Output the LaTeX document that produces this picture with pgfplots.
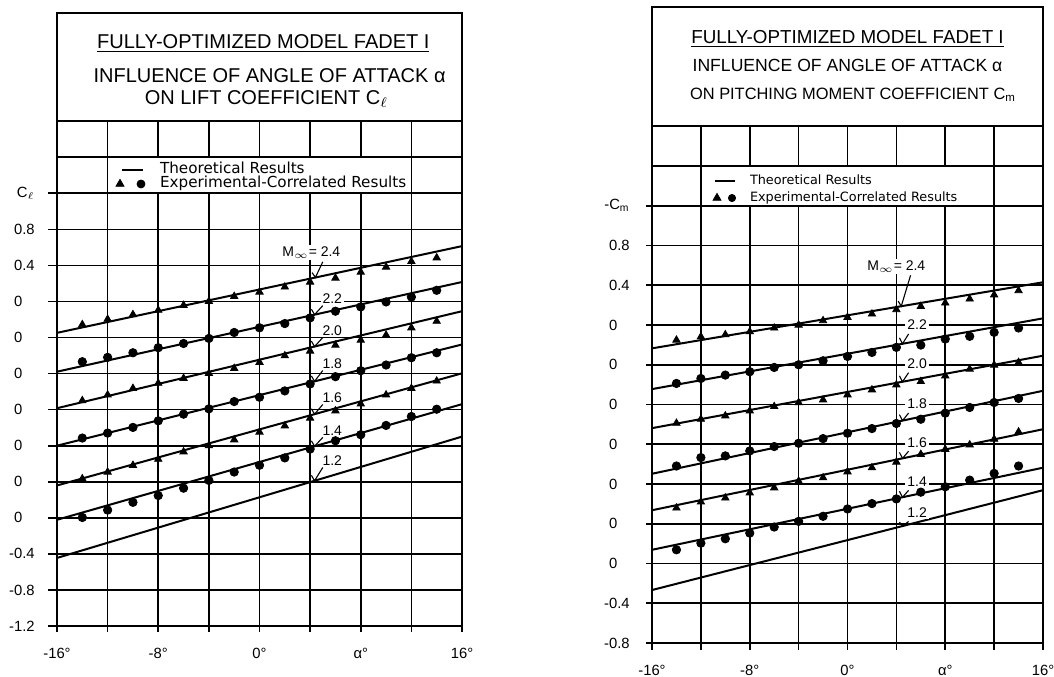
\documentclass[border=0pt]{standalone}
\usepackage{fontspec}
\setmainfont{Liberation Sans}
\newfontfamily\legfont{DejaVu Sans}
\usepackage{pgfplots}
\usepackage{pgfplotstable}
\pgfplotsset{compat=1.18}

% ---------- lift coefficient chart ----------
\pgfplotstableread{
a m24 m22 m20 m18 m16 m14
-14 -0.256 -0.668 -1.099 -1.515 -1.966 -2.396
-12 -0.197 -0.620 -1.036 -1.460 -1.892 -2.314
-10 -0.145 -0.569 -0.963 -1.397 -1.817 -2.228
-8 -0.097 -0.513 -0.907 -1.324 -1.750 -2.153
-6 -0.042 -0.466 -0.852 -1.250 -1.667 -2.071
-4 0.002 -0.410 -0.797 -1.191 -1.600 -1.985
-2 0.057 -0.344 -0.742 -1.110 -1.534 -1.892
0 0.105 -0.292 -0.675 -1.062 -1.449 -1.817
2 0.161 -0.245 -0.602 -0.992 -1.379 -1.735
4 0.216 -0.182 -0.550 -0.915 -1.294 -1.637
6 0.260 -0.108 -0.484 -0.834 -1.213 -1.545
8 0.326 -0.060 -0.429 -0.768 -1.136 -1.478
10 0.382 -0.005 -0.373 -0.705 -1.036 -1.375
12 0.444 0.050 -0.292 -0.624 -0.963 -1.276
14 0.485 0.124 -0.219 -0.569 -0.882 -1.195
}\liftexp
\pgfplotstableread{
a m24 m22 m20 m18 m16 m14 m12
-16 -0.348 -0.779 -1.184 -1.600 -2.041 -2.422 -2.845
16 0.614 0.216 -0.108 -0.477 -0.797 -1.139 -1.499
}\lifttheo

% ---------- pitching moment chart ----------
\pgfplotstableread{
a m24 m22 m20 m18 m16 m14
-14 -0.151 -0.588 -0.988 -1.419 -1.841 -2.262
-12 -0.118 -0.538 -0.948 -1.334 -1.780 -2.195
-10 -0.097 -0.504 -0.914 -1.317 -1.740 -2.151
-8 -0.067 -0.470 -0.864 -1.267 -1.689 -2.094
-6 -0.030 -0.427 -0.820 -1.223 -1.638 -2.033
-4 0.000 -0.400 -0.780 -1.190 -1.571 -1.976
-2 0.044 -0.360 -0.753 -1.143 -1.537 -1.925
0 0.077 -0.316 -0.702 -1.089 -1.477 -1.851
2 0.111 -0.276 -0.652 -1.042 -1.436 -1.797
4 0.155 -0.225 -0.602 -0.991 -1.379 -1.750
6 0.188 -0.202 -0.568 -0.948 -1.301 -1.682
8 0.222 -0.141 -0.511 -0.887 -1.251 -1.628
10 0.262 -0.114 -0.444 -0.830 -1.205 -1.561
12 0.303 -0.074 -0.403 -0.780 -1.149 -1.493
14 0.346 -0.030 -0.376 -0.739 -1.075 -1.419
}\momexp
\pgfplotstableread{
a m24 m22 m20 m18 m16 m14 m12
-16 -0.235 -0.645 -1.038 -1.497 -1.864 -2.262 -2.667
16 0.430 0.067 -0.309 -0.662 -1.049 -1.436 -1.662
}\momtheo

\pgfplotsset{
  theo/.style={black, line width=1pt, no markers, forget plot},
  tri/.style={black, only marks, mark=triangle*, mark size=2.1pt, forget plot},
  circ/.style={black, only marks, mark=*, mark size=2.1pt, forget plot},
  chart/.style={
    scale only axis, xmin=-16, xmax=16, clip=false,
    axis line style={black, line width=1pt},
    major tick length=0pt,
    xtick={-16,-8,0,8,16},
    xticklabels={-16°,-8°,0°,α°,16°},
    tick label style={font=\fontsize{7.4}{8}\selectfont},
    xticklabel style={anchor=base, inner sep=0pt, yshift=-16pt},
    yticklabel style={anchor=east, inner sep=0pt, xshift=-11pt},
    legend cell align=left,
  },
}
\tikzset{
  gridl/.style={black, line width=0.8pt},
  lead/.style={black, line width=0.55pt},
  clab/.style={fill=white, inner sep=1pt, font=\fontsize{7}{8}\selectfont},
}

\begin{document}
\begin{tikzpicture}
% ================= LEFT: lift coefficient =================
\begin{axis}[chart,
  at={(28.5pt,25pt)}, anchor=south west,
  width=202.5pt, height=306.5pt,
  ymin=-3.6, ymax=3.2,
  ytick={-3.6,-3.2,-2.8,-2.4,-2,-1.6,-1.2,-0.8,-0.4,0,0.4,0.8,1.2},
  yticklabels={-1.2,-0.8,-0.4,0\phantom{.4},0\phantom{.4},0\phantom{.4},0\phantom{.4},0\phantom{.4},0\phantom{.4},0\phantom{.4},0.4,0.8,C$_\ell$\hspace{3.5pt}},
  legend style={at={(0.1447,0.7325)}, anchor=west, draw=none, fill=none,
    inner sep=0pt, outer sep=0pt, row sep=0pt, column sep=7pt,
    font=\legfont\fontsize{7.6}{8}\selectfont,
    nodes={inner sep=0pt, text height=5.5pt, text depth=1.5pt}},
]
\addlegendimage{legend image code/.code={\path[draw=none,fill=none] (-2.2pt,-2.5pt) rectangle (13pt,2.5pt); \draw[line width=1.3pt] (1pt,0pt) -- (11.5pt,0pt);}}
\addlegendentry{Theoretical Results}
\addlegendimage{legend image code/.code={\path[draw=none,fill=none] (-2.2pt,-2.5pt) rectangle (13pt,2.5pt); \draw plot[mark=triangle*, mark size=2.3pt] coordinates {(0pt,0pt)}; \draw plot[mark=*, mark size=2pt] coordinates {(10.5pt,0pt)};}}
\addlegendentry{Experimental-Correlated Results}

% grid
\pgfplotsinvokeforeach{-3.6,-3.2,-2.8,-2.4,-2.0,-1.6,-1.2,-0.8,-0.4,0,0.4,0.8,1.2}{
  \draw[gridl] (axis cs:-16,#1) ++(-4.5pt,0pt) -- (axis cs:16,#1);}
\pgfplotsinvokeforeach{1.6,2.0}{\draw[gridl] (axis cs:-16,#1) -- (axis cs:16,#1);}
\pgfplotsinvokeforeach{-12,12}{\draw[gridl] (axis cs:#1,-3.6) ++(0pt,-3pt) -- (axis cs:#1,2.0);}
\pgfplotsinvokeforeach{-8,-4,0,4,8}{\draw[gridl] (axis cs:#1,-3.6) ++(0pt,-3pt) -- (axis cs:#1,1.2);
  \draw[gridl] (axis cs:#1,1.6) -- (axis cs:#1,2.0);}
\pgfplotsinvokeforeach{-16,16}{\draw[gridl] (axis cs:#1,-3.6) -- ++(0pt,-3pt);}

% theoretical lines
\addplot[theo] table[x=a,y=m24] {\lifttheo};
\addplot[theo] table[x=a,y=m22] {\lifttheo};
\addplot[theo] table[x=a,y=m20] {\lifttheo};
\addplot[theo] table[x=a,y=m18] {\lifttheo};
\addplot[theo] table[x=a,y=m16] {\lifttheo};
\addplot[theo] table[x=a,y=m14] {\lifttheo};
\addplot[theo] table[x=a,y=m12] {\lifttheo};
% experimental
\addplot[tri]  table[x=a,y=m24] {\liftexp};
\addplot[circ] table[x=a,y=m22] {\liftexp};
\addplot[tri]  table[x=a,y=m20] {\liftexp};
\addplot[circ] table[x=a,y=m18] {\liftexp};
\addplot[tri]  table[x=a,y=m16] {\liftexp};
\addplot[circ] table[x=a,y=m14] {\liftexp};

% curve labels
\node[clab] at (axis cs:4.1,0.544) {M$_\infty$= 2.4};
\node[clab] at (axis cs:5.75,0.034) {2.2};
\node[clab] at (axis cs:5.75,-0.320) {2.0};
\node[clab] at (axis cs:5.75,-0.686) {1.8};
\node[clab] at (axis cs:5.75,-1.063) {1.6};
\node[clab] at (axis cs:5.75,-1.428) {1.4};
\node[clab] at (axis cs:5.75,-1.761) {1.2};
\draw[lead] (axis cs:4.15,0.32) -- (axis cs:4.42,0.267) -- (axis cs:5.0,0.44);
\draw[lead] (axis cs:4.1,-0.086) -- (axis cs:4.35,-0.146) -- (axis cs:5.0,-0.046);
\draw[lead] (axis cs:4.1,-0.44) -- (axis cs:4.35,-0.500) -- (axis cs:5.0,-0.40);
\draw[lead] (axis cs:4.1,-0.826) -- (axis cs:4.35,-0.886) -- (axis cs:5.0,-0.766);
\draw[lead] (axis cs:4.1,-1.19) -- (axis cs:4.35,-1.250) -- (axis cs:5.0,-1.143);
\draw[lead] (axis cs:4.1,-1.546) -- (axis cs:4.35,-1.606) -- (axis cs:5.0,-1.508);
\draw[lead] (axis cs:4.1,-1.929) -- (axis cs:4.35,-1.989) -- (axis cs:5.0,-1.841);

% title block
\node[anchor=base, font=\fontsize{10}{12}\selectfont] at (axis cs:0.3,2.805) {\underline{FULLY-OPTIMIZED MODEL FADET I}};
\node[anchor=base, font=\fontsize{10}{12}\selectfont] at (axis cs:0.8,2.428) {INFLUENCE OF ANGLE OF ATTACK α};
\node[anchor=base, font=\fontsize{10}{12}\selectfont] at (axis cs:0.55,2.184) {ON LIFT COEFFICIENT C$_\ell$};
\end{axis}

% ================= RIGHT: pitching moment =================
\begin{axis}[chart,
  at={(326pt,16.5pt)}, anchor=south west,
  width=195.5pt, height=318pt,
  ymin=-3.2, ymax=3.2,
  ytick={-3.2,-2.8,-2.4,-2,-1.6,-1.2,-0.8,-0.4,0,0.4,0.8,1.2},
  yticklabels={-0.8,-0.4,0\phantom{.4},0\phantom{.4},0\phantom{.4},0\phantom{.4},0\phantom{.4},0\phantom{.4},0\phantom{.4},0.4,0.8,-C\textsubscript{m}},
  legend style={at={(0.155,0.713)}, anchor=west, draw=none, fill=none,
    inner sep=0pt, outer sep=0pt, row sep=0pt, column sep=6.5pt,
    font=\legfont\fontsize{6.4}{7}\selectfont,
    nodes={inner sep=0pt, text height=6pt, text depth=2.5pt}},
]
\addlegendimage{legend image code/.code={\path[draw=none,fill=none] (-2.2pt,-2.5pt) rectangle (10pt,2.5pt); \draw[line width=1.3pt] (-1pt,0pt) -- (9pt,0pt);}}
\addlegendentry{Theoretical Results}
\addlegendimage{legend image code/.code={\path[draw=none,fill=none] (-2.2pt,-2.5pt) rectangle (10pt,2.5pt); \draw plot[mark=triangle*, mark size=2.3pt] coordinates {(0pt,0pt)}; \draw plot[mark=*, mark size=1.8pt] coordinates {(7.5pt,0pt)};}}
\addlegendentry{Experimental-Correlated Results}

% grid
\pgfplotsinvokeforeach{-3.2,-2.8,-2.4,-2.0,-1.6,-1.2,-0.8,-0.4,0,0.4,0.8,1.2}{
  \draw[gridl] (axis cs:-16,#1) ++(-3pt,0pt) -- (axis cs:16,#1);}
\pgfplotsinvokeforeach{1.6,2.0}{\draw[gridl] (axis cs:-16,#1) -- (axis cs:16,#1);}
\pgfplotsinvokeforeach{-12,12}{\draw[gridl] (axis cs:#1,-3.2) ++(0pt,-3.5pt) -- (axis cs:#1,2.0);}
\pgfplotsinvokeforeach{-8,-4,0,4,8}{\draw[gridl] (axis cs:#1,-3.2) ++(0pt,-3.5pt) -- (axis cs:#1,1.2);
  \draw[gridl] (axis cs:#1,1.6) -- (axis cs:#1,2.0);}
\pgfplotsinvokeforeach{-16,16}{\draw[gridl] (axis cs:#1,-3.2) -- ++(0pt,-3.5pt);}

% theoretical lines
\addplot[theo] table[x=a,y=m24] {\momtheo};
\addplot[theo] table[x=a,y=m22] {\momtheo};
\addplot[theo] table[x=a,y=m20] {\momtheo};
\addplot[theo] table[x=a,y=m18] {\momtheo};
\addplot[theo] table[x=a,y=m16] {\momtheo};
\addplot[theo] table[x=a,y=m14] {\momtheo};
\addplot[theo] table[x=a,y=m12] {\momtheo};
% experimental
\addplot[tri]  table[x=a,y=m24] {\momexp};
\addplot[circ] table[x=a,y=m22] {\momexp};
\addplot[tri]  table[x=a,y=m20] {\momexp};
\addplot[circ] table[x=a,y=m18] {\momexp};
\addplot[tri]  table[x=a,y=m16] {\momexp};
\addplot[circ] table[x=a,y=m14] {\momexp};

% curve labels
\node[clab] at (axis cs:4.0,0.588) {M$_\infty$= 2.4};
\node[clab] at (axis cs:5.7,0.0) {2.2};
\node[clab] at (axis cs:5.7,-0.392) {2.0};
\node[clab] at (axis cs:5.7,-0.796) {1.8};
\node[clab] at (axis cs:5.7,-1.18) {1.6};
\node[clab] at (axis cs:5.7,-1.574) {1.4};
\node[clab] at (axis cs:5.7,-1.887) {1.2};
\draw[lead] (axis cs:4.15,0.24) -- (axis cs:4.4,0.189) -- (axis cs:5.16,0.50);
\draw[lead] (axis cs:4.25,-0.129) -- (axis cs:4.5,-0.189) -- (axis cs:5.0,-0.09);
\draw[lead] (axis cs:4.25,-0.511) -- (axis cs:4.5,-0.571) -- (axis cs:5.0,-0.48);
\draw[lead] (axis cs:4.25,-0.902) -- (axis cs:4.5,-0.962) -- (axis cs:5.0,-0.886);
\draw[lead] (axis cs:4.25,-1.282) -- (axis cs:4.5,-1.342) -- (axis cs:5.0,-1.27);
\draw[lead] (axis cs:4.25,-1.673) -- (axis cs:4.5,-1.733) -- (axis cs:5.0,-1.664);
\draw[lead] (axis cs:4.25,-1.983) -- (axis cs:4.5,-2.023) -- (axis cs:5.0,-1.977);

% title block
\node[anchor=base, font=\fontsize{9.4}{11}\selectfont] at (axis cs:0,2.830) {\underline{FULLY-OPTIMIZED MODEL FADET I}};
\node[anchor=base, font=\fontsize{8.8}{11}\selectfont] at (axis cs:0,2.547) {INFLUENCE OF ANGLE OF ATTACK α};
\node[anchor=base, font=\fontsize{8.2}{10}\selectfont] at (axis cs:0.45,2.265) {ON PITCHING MOMENT COEFFICIENT C\textsubscript{m}};
\end{axis}

\pgfresetboundingbox
\path[use as bounding box] (0,0) rectangle (527pt,338pt);
\end{tikzpicture}
\end{document}
